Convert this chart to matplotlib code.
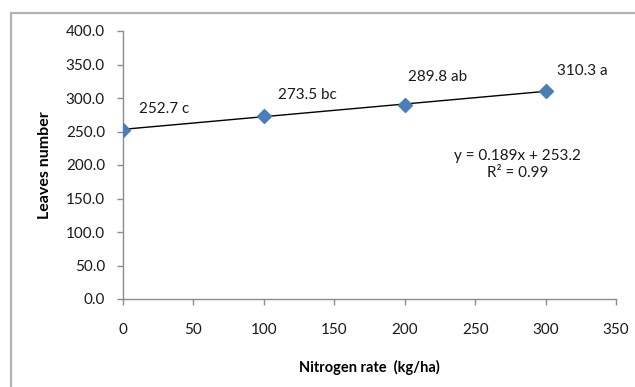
import numpy as np
import matplotlib
matplotlib.use("Agg")
import matplotlib.pyplot as plt
from matplotlib.patches import Rectangle

plt.rcParams['font.family'] = ['Lato', 'DejaVu Sans']

# Data
nitrogen_rate = [0, 100, 200, 300]
leaves_number = [252.7, 273.5, 289.8, 310.3]
letters = ["c", "bc", "ab", "a"]
x_ticks = [0, 50, 100, 150, 200, 250, 300, 350]
y_ticks = [0, 50, 100, 150, 200, 250, 300, 350, 400]
r_squared_text = "0.99"

# Label offsets (pixels) for each point label
label_offsets = [(16, 21), (14, 21), (3, 28), (11, 20)]

W, H = 635, 387
fig = plt.figure(figsize=(W / 100, H / 100), dpi=100)
fig.patch.set_facecolor("white")

# Outer chart frame (extends past right/bottom edges)
fig.add_artist(Rectangle((10.5 / W, -0.05), 1.2, 1 - 12.5 / H + 0.05,
                         transform=fig.transFigure, fill=False,
                         edgecolor="#b3b3b3", linewidth=1.6))

ax = fig.add_axes([123 / W, 1 - 299 / H, (616 - 123) / W, (299 - 31) / H])

# Linear trendline
slope, intercept = np.polyfit(nitrogen_rate, leaves_number, 1)
xs = np.array([min(nitrogen_rate), max(nitrogen_rate)])
ax.plot(xs, slope * xs + intercept, color="black", linewidth=1.0, zorder=2)

# Data points
ax.plot(nitrogen_rate, leaves_number, linestyle="none", marker="D",
        markersize=7, color="#4a7ebb", markeredgecolor="#4a7ebb", zorder=3)

for x, y, l, (dx, dy) in zip(nitrogen_rate, leaves_number, letters, label_offsets):
    ax.annotate(f"{y:.1f} {l}", (x, y), xytext=(dx * 0.72, dy * 0.72),
                textcoords="offset points", ha="left", va="center",
                fontsize=11, color="#1a1a1a")

ax.text(0.801, 0.503, f"y = {slope:.3f}x + {intercept:.1f}\nR\u00b2 = {r_squared_text}",
        transform=ax.transAxes, ha="center", va="center", fontsize=11,
        color="#1a1a1a", linespacing=1.25)

ax.set_xlim(0, 350)
ax.set_ylim(0, 400)
ax.set_xticks(x_ticks)
ax.set_yticks(y_ticks)
ax.set_yticklabels([f"{v:.1f}" for v in y_ticks])
ax.set_xticklabels([str(v) for v in x_ticks])

for s in ["top", "right"]:
    ax.spines[s].set_visible(False)
for s in ["left", "bottom"]:
    ax.spines[s].set_color("#8c8c8c")
    ax.spines[s].set_linewidth(1.0)

ax.tick_params(axis="both", direction="out", length=4, width=1.0,
               color="#8c8c8c", labelsize=11, labelcolor="#1a1a1a")
ax.tick_params(axis="y", pad=9)
ax.tick_params(axis="x", pad=13)

ax.set_xlabel("Nitrogen rate  (kg/ha)", fontsize=10.5, fontweight="bold",
              labelpad=17)
ax.set_ylabel("Leaves number", fontsize=11.5, fontweight="bold", labelpad=10)

fig.savefig("out.png", dpi=100)
